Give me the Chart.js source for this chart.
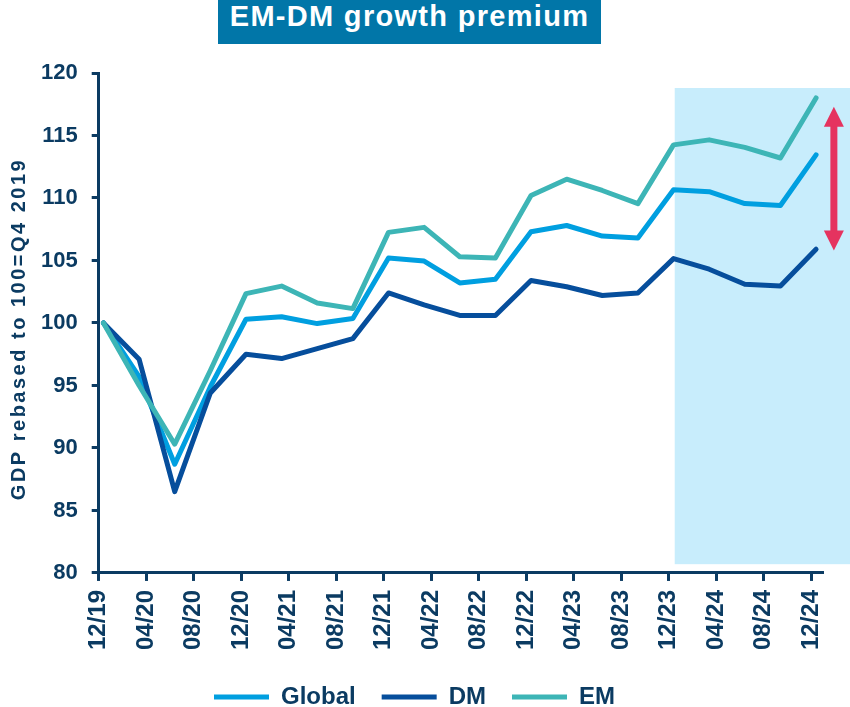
<!DOCTYPE html>
<html>
<head>
<meta charset="utf-8">
<script src="https://cdn.jsdelivr.net/npm/chart.js@4"></script>
<style>
  html, body { margin: 0; padding: 0; background: #fff; }
  #wrap { position: relative; width: 850px; height: 707px; }
  #chart { position: absolute; left: 0; top: 0; }
  #title {
    position: absolute; left: 218px; top: 0; width: 383px; height: 44px;
    background: #0176a8; color: #fff; text-align: center; line-height: 44px;
    font: bold 29px "Liberation Sans", Arial, sans-serif; letter-spacing: 1.3px;
  }
</style>
</head>
<body>
<div id="wrap">
  <canvas id="chart" width="850" height="707"></canvas>
  <div id="title">EM-DM growth premium</div>
</div>
<script>
// quarter ends, as months after the 12/19 tick
const months = [0.4, 3.4, 6.4, 9.4, 12.4, 15.4, 18.4, 21.4, 24.4, 27.4, 30.4,
    33.4, 36.4, 39.4, 42.4, 45.4, 48.4, 51.4, 54.4, 57.4, 60.4];

const globalVals = [100, 95.7, 88.7, 94.9, 100.3, 100.5, 99.95, 100.35, 105.2, 104.95, 103.2,
    103.5, 107.3, 107.8, 106.95, 106.8, 110.65, 110.5, 109.55, 109.4, 113.45];
const dmVals = [100, 97.1, 86.5, 94.4, 97.5, 97.15, 97.95, 98.75, 102.4, 101.45, 100.6,
    100.6, 103.4, 102.9, 102.2, 102.4, 105.15, 104.3, 103.1, 102.95, 105.9];
const emVals = [100, 95.0, 90.3, 96.2, 102.35, 102.95, 101.6, 101.15, 107.25, 107.65, 105.3,
    105.2, 110.2, 111.5, 110.6, 109.55, 114.25, 114.65, 114.05, 113.2, 118.0];

const tickLabels = ['12/19', '04/20', '08/20', '12/20', '04/21', '08/21', '12/21', '04/22',
    '08/22', '12/22', '04/23', '08/23', '12/23', '04/24', '08/24', '12/24'];
const tickStep = 4;

const yTitle = 'GDP rebased to 100=Q4 2019';

// highlighted forecast window and the gap arrow (in axis units)
const shade = {from: 48.5, top: 118.8, bottom: 80.7};
const arrow = {at: 61.9, top: 117.3, bottom: 105.8};

const ink = '#0b3b62';
const font = '"Liberation Sans", Arial, sans-serif';

function points(vals) {
    return months.map((m, i) => ({x: m, y: vals[i]}));
}

function line(label, vals, color, order) {
    return {
        label: label,
        data: points(vals),
        borderColor: color,
        backgroundColor: color,
        borderWidth: 5,
        borderCapStyle: 'round',
        borderJoinStyle: 'round',
        pointRadius: 0,
        tension: 0,
        order: order,
    };
}

const extras = {
    id: 'extras',
    afterLayout(chart) {
        // legend sits a bit left of the canvas centre in the original
        chart.legend.left -= 10;
        chart.legend.right -= 10;
    },
    beforeDatasetsDraw(chart) {
        const {ctx, scales: {x, y}} = chart;
        const left = x.getPixelForValue(shade.from);
        const top = y.getPixelForValue(shade.top);
        const bottom = y.getPixelForValue(shade.bottom);
        ctx.save();
        ctx.fillStyle = '#c8edfc';
        ctx.fillRect(left, top, chart.width - left, bottom - top);
        ctx.restore();
    },
    afterDatasetsDraw(chart) {
        const {ctx, scales: {x, y}} = chart;
        const ax = x.getPixelForValue(arrow.at);
        const t = y.getPixelForValue(arrow.top);
        const b = y.getPixelForValue(arrow.bottom);
        ctx.save();
        ctx.fillStyle = '#e5335f';
        ctx.fillRect(ax - 3.5, t + 18, 7, b - t - 36);
        ctx.beginPath();
        ctx.moveTo(ax, t);
        ctx.lineTo(ax + 10, t + 20);
        ctx.lineTo(ax - 10, t + 20);
        ctx.closePath();
        ctx.fill();
        ctx.beginPath();
        ctx.moveTo(ax, b);
        ctx.lineTo(ax + 10, b - 20);
        ctx.lineTo(ax - 10, b - 20);
        ctx.closePath();
        ctx.fill();
        ctx.restore();
    },
    afterDraw(chart) {
        // y axis title, drawn by hand so it can be letter-spaced
        const {ctx, chartArea} = chart;
        ctx.save();
        ctx.translate(25, (chartArea.top + chartArea.bottom) / 2 + 6);
        ctx.rotate(-Math.PI / 2);
        ctx.font = 'bold 20px ' + font;
        if ('letterSpacing' in ctx) ctx.letterSpacing = '2.5px';
        ctx.fillStyle = ink;
        ctx.textAlign = 'center';
        ctx.textBaseline = 'alphabetic';
        ctx.fillText(yTitle, 0, 0);
        ctx.restore();
    }
};

Chart.defaults.font.family = font;

new Chart(document.getElementById('chart'), {
    type: 'line',
    data: {
        datasets: [
            line('Global', globalVals, '#009fe0', 2),
            line('DM', dmVals, '#064e9c', 1),
            line('EM', emVals, '#3db5b6', 0),
        ]
    },
    options: {
        responsive: false,
        animation: false,
        layout: {padding: {top: 73, left: 27, right: 28, bottom: -12}},
        plugins: {
            legend: {
                position: 'bottom',
                labels: {
                    usePointStyle: true,
                    pointStyle: 'line',
                    pointStyleWidth: 55,
                    color: ink,
                    font: {size: 24, weight: 'bold'},
                    padding: 26,
                    sort: (a, b) => a.datasetIndex - b.datasetIndex,
                }
            },
            tooltip: {enabled: false},
        },
        scales: {
            x: {
                type: 'linear',
                min: 0,
                max: 60.9,
                border: {display: true, color: ink, width: 3},
                grid: {drawOnChartArea: false, drawTicks: true, tickLength: 8, color: ink, lineWidth: 3},
                ticks: {
                    stepSize: tickStep,
                    includeBounds: false,
                    autoSkip: false,
                    maxRotation: 90,
                    minRotation: 90,
                    padding: 9,
                    color: ink,
                    font: {size: 24, weight: 'bold'},
                    callback: v => tickLabels[v / tickStep],
                }
            },
            y: {
                min: 80,
                max: 120,
                border: {display: true, color: ink, width: 3},
                grid: {drawOnChartArea: false, drawTicks: true, tickLength: 7, color: ink, lineWidth: 3},
                ticks: {
                    stepSize: 5,
                    padding: 14,
                    color: ink,
                    font: {size: 22, weight: 'bold'},
                }
            }
        }
    },
    plugins: [extras]
});
</script>
</body>
</html>
